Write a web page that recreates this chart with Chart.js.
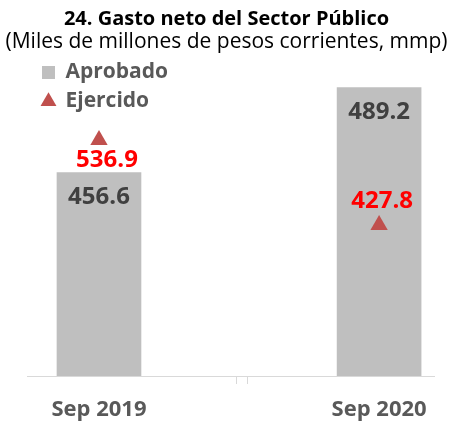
<!DOCTYPE html>
<html>
<head>
<meta charset="utf-8">
<script src="https://cdn.jsdelivr.net/npm/chart.js"></script>
<style>
html, body { margin: 0; padding: 0; background: #fff; }
#caja { width: 453px; height: 424px; }
</style>
</head>
<body>
<div id="caja"><canvas id="myChart"></canvas></div>
<script>
// datos
const categorias = ["Sep 2019", "Sep 2020"];
const aprobado = [456.6, 489.2];
const ejercido = [536.9, 427.8];
const posiciones = [0, 1];

// corte del eje en medio (como en Excel)
const cortesEje = [0.492, 0.531];
// desplazamiento de las etiquetas rojas respecto al triangulo
const etqDx = [8, 3];
const etqDy = [20, -24];

const fuente = "'Open Sans', sans-serif";
Chart.defaults.font.family = fuente;

const etiquetas = {
  id: 'etiquetas',
  afterDatasetsDraw(chart) {
    const ctx = chart.ctx;
    ctx.save();
    ctx.textAlign = 'center';
    ctx.textBaseline = 'middle';
    ctx.font = "bold 24px " + fuente;
    chart.getDatasetMeta(0).data.forEach((barra, i) => {
      ctx.fillStyle = '#404040';
      ctx.fillText(aprobado[i].toFixed(1), barra.x, barra.y + 25);
    });
    chart.getDatasetMeta(1).data.forEach((punto, i) => {
      ctx.fillStyle = '#FF0000';
      ctx.fillText(ejercido[i].toFixed(1), punto.x + etqDx[i], punto.y + etqDy[i]);
    });
    ctx.restore();
  }
};

// la leyenda 'chartArea' vertical se queda en top=0, la bajamos al area
const leyendaDentro = {
  id: 'leyendaDentro',
  afterLayout(chart) {
    const lg = chart.legend;
    const area = chart.chartArea;
    lg.top = area.top;
    lg.bottom = area.bottom;
    lg.left = area.left + 7;
  }
};

// ejes y ocultos que solo reservan margen
const ejeOculto = (ancho) => ({
  display: true,
  grid: {display: false},
  border: {display: false},
  ticks: {display: false},
  afterFit: (eje) => { eje.width = ancho; }
});

new Chart("myChart", {
  type: "bar",
  data: {
    datasets: [{
      label: "Aprobado",
      data: posiciones.map((x, i) => ({x: x, y: aprobado[i]})),
      backgroundColor: "#BFBFBF",
      barThickness: 84,
      pointStyle: "rect",
      yAxisID: "y",
      order: 2
    }, {
      type: "line",
      label: "Ejercido",
      data: posiciones.map((x, i) => ({x: x, y: ejercido[i]})),
      showLine: false,
      pointStyle: "triangle",
      pointRadius: 10,
      pointBorderWidth: 0,
      backgroundColor: "#C0504D",
      borderColor: "#C0504D",
      yAxisID: "y1",
      order: 1
    }]
  },
  options: {
    responsive: true,
    maintainAspectRatio: false,
    animation: false,
    layout: {padding: {left: 0, right: 0, top: 0, bottom: -12}},
    plugins: {
      title: {
        display: true,
        text: "24. Gasto neto del Sector Público",
        color: "#000",
        font: {size: 20, weight: "bold", lineHeight: 1.1},
        padding: {top: 8, bottom: 2}
      },
      subtitle: {
        display: true,
        text: "(Miles de millones de pesos corrientes, mmp)",
        color: "#000",
        font: {size: 21, lineHeight: 1.0},
        padding: {top: 0, bottom: 1}
      },
      legend: {
        position: "chartArea",
        align: "start",
        labels: {
          usePointStyle: true,
          boxWidth: 13,
          boxHeight: 13,
          padding: 8,
          color: "#595959",
          font: {size: 21, weight: "bold"},
          sort: (a, b) => a.datasetIndex - b.datasetIndex
        }
      },
      tooltip: {enabled: false}
    },
    scales: {
      x: {
        type: "linear",
        offset: false,
        min: -0.257,
        max: 1.196,
        afterBuildTicks: (eje) => {
          eje.ticks = [0, cortesEje[0], cortesEje[1], 1].map(v => ({value: v}));
        },
        ticks: {
          autoSkip: false,
          maxRotation: 0,
          padding: 12.8,
          color: "#595959",
          font: {size: 22, weight: "bold"},
          callback: (v) => {
            const i = posiciones.indexOf(v);
            return i >= 0 ? categorias[i] : "";
          }
        },
        grid: {
          offset: false,
          drawOnChartArea: false,
          drawTicks: true,
          tickLength: 8,
          color: (c) => (c.tick && cortesEje.includes(c.tick.value)) ? "#D9D9D9" : "rgba(0,0,0,0)"
        },
        border: {display: true, color: "#D9D9D9", width: 1}
      },
      y: Object.assign(ejeOculto(27), {min: 378.6, max: 502.1}),
      y1: Object.assign(ejeOculto(19), {position: "right", min: 234.0, max: 647.3})
    }
  },
  plugins: [etiquetas, leyendaDentro]
});
</script>
</body>
</html>
